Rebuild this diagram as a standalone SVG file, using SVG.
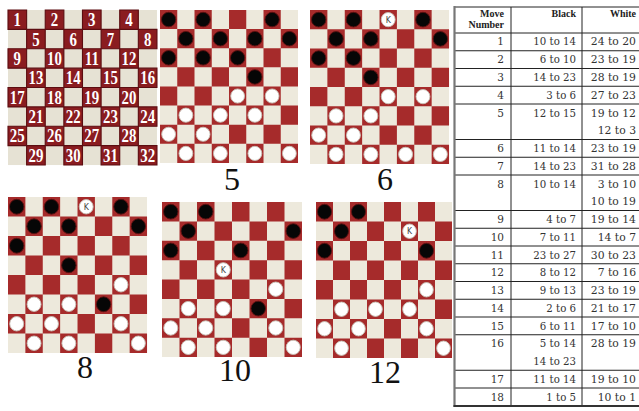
<svg xmlns="http://www.w3.org/2000/svg" xmlns:xlink="http://www.w3.org/1999/xlink" width="639" height="411" viewBox="0 0 639 411">
<style>
.lt{fill:#ede9dc}
.dk{fill:#a62b2b}
.lt1{fill:#e6e2d4}
.dk1{fill:#8a1c20;stroke:#5c0d11;stroke-width:1.2}
.num{font-family:"Liberation Serif",serif;font-weight:bold;font-size:20px;fill:#fff;text-anchor:middle}
.lbl{font-family:"Liberation Serif",serif;font-size:32px;fill:#111;text-anchor:middle}
.bp{fill:#060606;stroke:#5a1010;stroke-width:1}
.wp{fill:#fff;stroke:#c8c2b8;stroke-width:1}
.kt{font-family:"DejaVu Sans",sans-serif;font-size:9px;fill:#444;text-anchor:middle}
.th{font-family:"Liberation Serif",serif;font-weight:bold;font-size:10px;fill:#222;text-anchor:end}
.td{font-family:"DejaVu Serif",serif;font-size:10.5px;fill:#333;text-anchor:end}
.tb{font-family:"DejaVu Serif",serif;font-size:10.2px;fill:#333;text-anchor:end}
.tw{font-family:"DejaVu Serif",serif;font-size:10.8px;fill:#333;text-anchor:end}
</style>
<defs>
<path id="darks" d="M0 0h20v20h-20zM40 0h20v20h-20zM80 0h20v20h-20zM120 0h20v20h-20zM20 20h20v20h-20zM60 20h20v20h-20zM100 20h20v20h-20zM140 20h20v20h-20zM0 40h20v20h-20zM40 40h20v20h-20zM80 40h20v20h-20zM120 40h20v20h-20zM20 60h20v20h-20zM60 60h20v20h-20zM100 60h20v20h-20zM140 60h20v20h-20zM0 80h20v20h-20zM40 80h20v20h-20zM80 80h20v20h-20zM120 80h20v20h-20zM20 100h20v20h-20zM60 100h20v20h-20zM100 100h20v20h-20zM140 100h20v20h-20zM0 120h20v20h-20zM40 120h20v20h-20zM80 120h20v20h-20zM120 120h20v20h-20zM20 140h20v20h-20zM60 140h20v20h-20zM100 140h20v20h-20zM140 140h20v20h-20z"/>
<g id="board"><rect class="lt" width="160" height="160"/><use xlink:href="#darks" class="dk"/></g>
<ellipse id="b" class="bp" rx="8.3" ry="7.6"/>
<ellipse id="w" class="wp" rx="8" ry="7.4"/>
<g id="k"><ellipse class="wp" rx="8" ry="7.4"/><text class="kt" y="3.2">K</text></g>
</defs>
<rect width="639" height="411" fill="#fff"/>

<g id="board-numbered" transform="translate(8 10) scale(0.931 0.969)">
<rect class="lt1" width="160" height="160"/>
<use xlink:href="#darks" class="dk1"/>
<g transform="scale(0.8 1)" class="num">
<text x="12.5" y="16.7">1</text><text x="62.5" y="16.7">2</text><text x="112.5" y="16.7">3</text><text x="162.5" y="16.7">4</text>
<text x="37.5" y="36.7">5</text><text x="87.5" y="36.7">6</text><text x="137.5" y="36.7">7</text><text x="187.5" y="36.7">8</text>
<text x="12.5" y="56.7">9</text><text x="62.5" y="56.7">10</text><text x="112.5" y="56.7">11</text><text x="162.5" y="56.7">12</text>
<text x="37.5" y="76.7">13</text><text x="87.5" y="76.7">14</text><text x="137.5" y="76.7">15</text><text x="187.5" y="76.7">16</text>
<text x="12.5" y="96.7">17</text><text x="62.5" y="96.7">18</text><text x="112.5" y="96.7">19</text><text x="162.5" y="96.7">20</text>
<text x="37.5" y="116.7">21</text><text x="87.5" y="116.7">22</text><text x="137.5" y="116.7">23</text><text x="187.5" y="116.7">24</text>
<text x="12.5" y="136.7">25</text><text x="62.5" y="136.7">26</text><text x="112.5" y="136.7">27</text><text x="162.5" y="136.7">28</text>
<text x="37.5" y="156.7">29</text><text x="87.5" y="156.7">30</text><text x="137.5" y="156.7">31</text><text x="187.5" y="156.7">32</text>
</g>
</g>

<g id="board-5" transform="translate(160 10) scale(0.8625 0.956)">
<use xlink:href="#board"/>
<use xlink:href="#b" x="10" y="10"/><use xlink:href="#b" x="50" y="10"/><use xlink:href="#b" x="130" y="10"/>
<use xlink:href="#b" x="30" y="30"/><use xlink:href="#b" x="70" y="30"/><use xlink:href="#b" x="110" y="30"/><use xlink:href="#b" x="150" y="30"/>
<use xlink:href="#b" x="10" y="50"/><use xlink:href="#b" x="50" y="50"/><use xlink:href="#b" x="90" y="50"/>
<use xlink:href="#b" x="110" y="70"/>
<use xlink:href="#w" x="90" y="90"/><use xlink:href="#w" x="130" y="90"/>
<use xlink:href="#w" x="30" y="110"/><use xlink:href="#w" x="70" y="110"/><use xlink:href="#w" x="110" y="110"/>
<use xlink:href="#w" x="10" y="130"/><use xlink:href="#w" x="50" y="130"/>
<use xlink:href="#w" x="30" y="150"/><use xlink:href="#w" x="70" y="150"/><use xlink:href="#w" x="110" y="150"/><use xlink:href="#w" x="150" y="150"/>
</g>

<g id="board-6" transform="translate(310 10) scale(0.869 0.9625)">
<use xlink:href="#board"/>
<use xlink:href="#b" x="10" y="10"/><use xlink:href="#b" x="50" y="10"/><use xlink:href="#k" x="90" y="10"/><use xlink:href="#b" x="130" y="10"/>
<use xlink:href="#b" x="30" y="30"/><use xlink:href="#b" x="70" y="30"/><use xlink:href="#b" x="150" y="30"/>
<use xlink:href="#b" x="10" y="50"/><use xlink:href="#b" x="50" y="50"/>
<use xlink:href="#b" x="70" y="70"/>
<use xlink:href="#w" x="90" y="90"/><use xlink:href="#w" x="130" y="90"/>
<use xlink:href="#w" x="30" y="110"/><use xlink:href="#w" x="70" y="110"/>
<use xlink:href="#w" x="10" y="130"/><use xlink:href="#w" x="50" y="130"/>
<use xlink:href="#w" x="30" y="150"/><use xlink:href="#w" x="70" y="150"/><use xlink:href="#w" x="110" y="150"/><use xlink:href="#w" x="150" y="150"/>
</g>

<g id="board-8" transform="translate(8 197) scale(0.869 0.975)">
<use xlink:href="#board"/>
<use xlink:href="#b" x="10" y="10"/><use xlink:href="#b" x="50" y="10"/><use xlink:href="#k" x="90" y="10"/><use xlink:href="#b" x="130" y="10"/>
<use xlink:href="#b" x="30" y="30"/><use xlink:href="#b" x="70" y="30"/><use xlink:href="#b" x="150" y="30"/>
<use xlink:href="#b" x="10" y="50"/>
<use xlink:href="#b" x="70" y="70"/>
<use xlink:href="#w" x="130" y="90"/>
<use xlink:href="#w" x="30" y="110"/><use xlink:href="#w" x="70" y="110"/><use xlink:href="#b" x="110" y="110"/>
<use xlink:href="#w" x="10" y="130"/><use xlink:href="#w" x="50" y="130"/><use xlink:href="#w" x="130" y="130"/>
<use xlink:href="#w" x="30" y="150"/><use xlink:href="#w" x="70" y="150"/><use xlink:href="#w" x="150" y="150"/>
</g>

<g id="board-10" transform="translate(162 202) scale(0.875 0.969)">
<use xlink:href="#board"/>
<use xlink:href="#b" x="10" y="10"/><use xlink:href="#b" x="50" y="10"/>
<use xlink:href="#b" x="30" y="30"/><use xlink:href="#b" x="150" y="30"/>
<use xlink:href="#b" x="10" y="50"/><use xlink:href="#b" x="90" y="50"/>
<use xlink:href="#k" x="70" y="70"/>
<use xlink:href="#w" x="130" y="90"/>
<use xlink:href="#w" x="30" y="110"/><use xlink:href="#w" x="70" y="110"/><use xlink:href="#b" x="110" y="110"/>
<use xlink:href="#w" x="10" y="130"/><use xlink:href="#w" x="50" y="130"/><use xlink:href="#w" x="130" y="130"/>
<use xlink:href="#w" x="30" y="150"/><use xlink:href="#w" x="70" y="150"/><use xlink:href="#w" x="150" y="150"/>
</g>

<g id="board-12" transform="translate(316 202) scale(0.85 0.975)">
<use xlink:href="#board"/>
<use xlink:href="#b" x="10" y="10"/><use xlink:href="#b" x="50" y="10"/>
<use xlink:href="#b" x="30" y="30"/><use xlink:href="#k" x="110" y="30"/>
<use xlink:href="#b" x="10" y="50"/><use xlink:href="#b" x="130" y="50"/>
<use xlink:href="#w" x="130" y="90"/>
<use xlink:href="#w" x="30" y="110"/><use xlink:href="#w" x="70" y="110"/><use xlink:href="#w" x="110" y="110"/>
<use xlink:href="#w" x="10" y="130"/><use xlink:href="#w" x="50" y="130"/><use xlink:href="#w" x="130" y="130"/>
<use xlink:href="#w" x="30" y="150"/><use xlink:href="#w" x="150" y="150"/>
</g>

<g id="labels" class="lbl">
<text x="232" y="190">5</text>
<text x="385" y="190">6</text>
<text x="85" y="378">8</text>
<text x="235" y="381">10</text>
<text x="385" y="383">12</text>
</g>

<g id="table">
<path d="M454 7H639M454 33H639M454 50.75H639M454 68.5H639M454 86.25H639M454 104H639M454 139.5H639M454 157.25H639M454 175H639M454 210.5H639M454 228.25H639M454 246H639M454 263.75H639M454 281.5H639M454 299.25H639M454 317H639M454 334.75H639M454 370.25H639M454 388H639M511 7V406M582 7V406" stroke="#222" stroke-width="1" fill="none"/>
<path d="M454.5 6V407" stroke="#777" stroke-width="2.2" fill="none"/>
<path d="M453.5 406H639" stroke="#333" stroke-width="2" fill="none"/>
<text class="th" x="504" y="17">Move</text>
<text class="th" x="504" y="28">Number</text>
<text class="th" x="576" y="17">Black</text>
<text class="th" x="636" y="17">White</text>
<g class="td">
<text x="504" y="45.25">1</text><text x="504" y="63.25">2</text><text x="504" y="81">3</text><text x="504" y="98.75">4</text><text x="504" y="116.5">5</text><text x="504" y="152">6</text><text x="504" y="169.75">7</text><text x="504" y="187.5">8</text><text x="504" y="223">9</text><text x="504" y="240.75">10</text><text x="504" y="258.5">11</text><text x="504" y="276.25">12</text><text x="504" y="294">13</text><text x="504" y="311.75">14</text><text x="504" y="329.5">15</text><text x="504" y="347.25">16</text><text x="504" y="382.75">17</text><text x="504" y="400.5">18</text>
</g>
<g class="tb">
<text x="576" y="45.25">10 to 14</text><text x="576" y="63.25">6 to 10</text><text x="576" y="81">14 to 23</text><text x="576" y="98.75">3 to 6</text><text x="576" y="116.5">12 to 15</text><text x="576" y="152">11 to 14</text><text x="576" y="169.75">14 to 23</text><text x="576" y="187.5">10 to 14</text><text x="576" y="223">4 to 7</text><text x="576" y="240.75">7 to 11</text><text x="576" y="258.5">23 to 27</text><text x="576" y="276.25">8 to 12</text><text x="576" y="294">9 to 13</text><text x="576" y="311.75">2 to 6</text><text x="576" y="329.5">6 to 11</text><text x="576" y="347.25">5 to 14</text><text x="576" y="365">14 to 23</text><text x="576" y="382.75">11 to 14</text><text x="576" y="400.5">1 to 5</text>
</g>
<g class="tw">
<text x="636" y="45.25">24 to 20</text><text x="636" y="63.25">23 to 19</text><text x="636" y="81">28 to 19</text><text x="636" y="98.75">27 to 23</text><text x="636" y="116.5">19 to 12</text><text x="636" y="134.25">12 to 3</text><text x="636" y="152">23 to 19</text><text x="636" y="169.75">31 to 28</text><text x="636" y="187.5">3 to 10</text><text x="636" y="205.25">10 to 19</text><text x="636" y="223">19 to 14</text><text x="636" y="240.75">14 to 7</text><text x="636" y="258.5">30 to 23</text><text x="636" y="276.25">7 to 16</text><text x="636" y="294">23 to 19</text><text x="636" y="311.75">21 to 17</text><text x="636" y="329.5">17 to 10</text><text x="636" y="347.25">28 to 19</text><text x="636" y="382.75">19 to 10</text><text x="636" y="400.5">10 to 1</text>
</g>
</g>
</svg>
